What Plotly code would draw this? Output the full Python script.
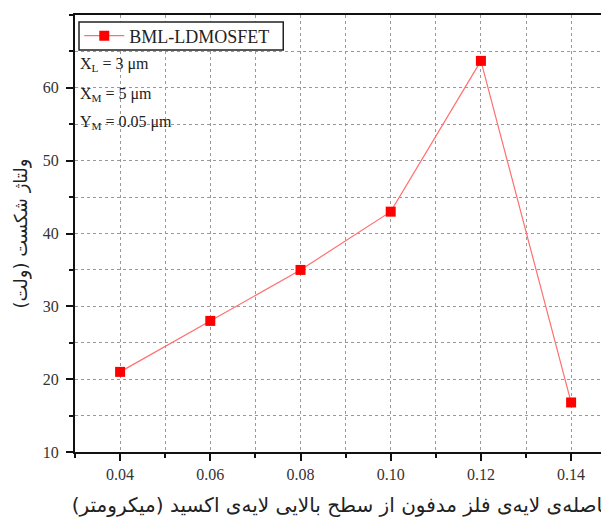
import plotly.graph_objects as go

depth_um = [0.04, 0.06, 0.08, 0.10, 0.12, 0.14]
breakdown_v = [21.0, 28.0, 35.0, 43.0, 63.7, 16.8]
series_name = "BML-LDMOSFET"
x_ticks = [0.04, 0.06, 0.08, 0.10, 0.12, 0.14]
x_tick_text = ["0.04", "0.06", "0.08", "0.10", "0.12", "0.14"]
y_ticks = [10, 20, 30, 40, 50, 60]
notes = ["X<sub>L</sub> = 3 μm", "X<sub>M</sub> = 5 μm", "Y<sub>M</sub> = 0.05 μm"]
x_title = "فاصله‌ی لایه‌ی فلز مدفون از سطح بالایی لایه‌ی اکسید (میکرومتر)"
y_title = "ولتاژ شکست (ولت)"

serif = "Liberation Serif, Times New Roman, serif"
fa_font = "DejaVu Sans, Noto Sans, sans-serif"
grid_col = "#999999"

fig = go.Figure()
fig.add_trace(go.Scatter(
    x=depth_um, y=breakdown_v, mode="lines+markers", name=series_name,
    line=dict(color="#ff7070", width=1.2),
    marker=dict(symbol="square", size=10, color="#ff0000",
                line=dict(width=0)),
))

# legend frame
fig.add_shape(type="rect", xref="paper", yref="paper",
              x0=0.0075, x1=0.390, y0=0.920, y1=0.984,
              line=dict(color="#222", width=1.5), fillcolor="white",
              layer="above")

note_y = [0.886, 0.818, 0.755]
for t, yy in zip(notes, note_y):
    fig.add_annotation(
        xref="paper", yref="paper", x=0.005, y=yy,
        text=t, showarrow=False, xanchor="left", yanchor="middle",
        font=dict(family=serif, size=16, color="#222"),
    )

fig.update_layout(
    width=609, height=523,
    margin=dict(l=67, r=8, t=7, b=79),
    plot_bgcolor="white", paper_bgcolor="white",
    showlegend=True,
    legend=dict(x=0.008, y=0.952, xanchor="left", yanchor="middle",
                borderwidth=0, bgcolor="rgba(0,0,0,0)",
                font=dict(family=serif, size=18, color="#222"),
                itemwidth=40, tracegroupgap=0),
    font=dict(family=serif, color="#222"),
)
fig.update_xaxes(
    range=[0.03, 0.1484], tickvals=x_ticks, ticktext=x_tick_text,
    ticks="outside", ticklen=7, tickwidth=2, tickcolor="#111",
    showline=True, linecolor="#111", linewidth=2, mirror=True,
    tickfont=dict(family=serif, size=16, color="#333"),
    zeroline=False, automargin=False,
    showgrid=True, gridcolor=grid_col, gridwidth=1, griddash="dot",
    minor=dict(dtick=0.01, tick0=0.0, ticks="outside", ticklen=4,
               tickwidth=2, tickcolor="#111",
               showgrid=True, gridcolor=grid_col, gridwidth=1, griddash="dot"),
    title=dict(text=x_title, standoff=16,
               font=dict(family=fa_font, size=20, color="#222")),
)
fig.update_yaxes(
    range=[10, 70], tickvals=y_ticks,
    ticks="outside", ticklen=7, tickwidth=2, tickcolor="#111",
    showline=True, linecolor="#111", linewidth=2, mirror=False,
    tickfont=dict(family=serif, size=16, color="#333"),
    ticklabelstandoff=4, zeroline=False, automargin=False,
    showgrid=True, gridcolor=grid_col, gridwidth=1, griddash="dot",
    minor=dict(dtick=5, tick0=0, ticks="outside", ticklen=4,
               tickwidth=2, tickcolor="#111",
               showgrid=True, gridcolor=grid_col, gridwidth=1, griddash="dot"),
    title=dict(text=y_title, standoff=10,
               font=dict(family=fa_font, size=18, color="#222")),
)

fig.write_html("out.html")
